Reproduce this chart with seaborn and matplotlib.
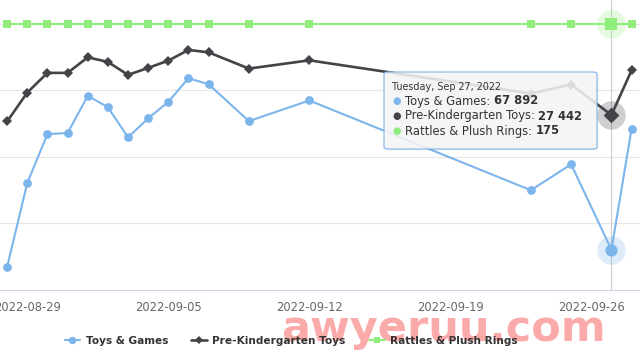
import pandas as pd
import numpy as np
import matplotlib
matplotlib.use('Agg')
import matplotlib.pyplot as plt
import matplotlib.dates as mdates
from matplotlib.patches import FancyBboxPatch
from matplotlib.lines import Line2D
import seaborn as sns

# ---- data ----
dates = ['2022-08-28', '2022-08-29', '2022-08-30', '2022-08-31', '2022-09-01',
         '2022-09-02', '2022-09-03', '2022-09-04', '2022-09-05', '2022-09-06',
         '2022-09-07', '2022-09-09', '2022-09-12', '2022-09-23', '2022-09-25',
         '2022-09-27', '2022-09-28']
toys_games = [72990, 47840, 33170, 32870, 21680, 25090, 34160, 28470, 23470,
              16410, 18200, 29280, 23080, 50030, 42250, 67892, 31560]
pre_kindergarten = [29370, 20690, 14790, 14790, 10120, 11500, 15390, 13290, 11110,
                    7900, 8620, 13500, 11020, 20990, 18290, 27442, 14010]
rattles_plush = [175, 175, 175, 175, 175, 175, 175, 175, 175,
                 175, 175, 175, 175, 175, 175, 175, 175]
series_names = ['Toys & Games', 'Pre-Kindergarten Toys', 'Rattles & Plush Rings']
tick_dates = ['2022-08-29', '2022-09-05', '2022-09-12', '2022-09-19', '2022-09-26']
hover_date = '2022-09-27'
hover_title = 'Tuesday, Sep 27, 2022'

colors = ['#7cb5ec', '#434348', '#90ed7d']
markers = ['o', 'D', 's']
msizes = [6.3, 5.5, 6.0]
lwidths = [1.5, 1.9, 1.5]

df = pd.DataFrame({'date': pd.to_datetime(dates),
                   series_names[0]: toys_games,
                   series_names[1]: pre_kindergarten,
                   series_names[2]: rattles_plush})

sns.set_style('white')
plt.rcParams['font.family'] = ['DejaVu Sans']

W, H = 640, 360
fig = plt.figure(figsize=(6.4, 3.6), dpi=100)
ax = fig.add_axes([0, 1 - 290 / H, 1, 290 / H])

hx = pd.Timestamp(hover_date)
ax.axvline(hx, color='#cccccc', lw=0.8, zorder=1)

for i, name in enumerate(series_names):
    sns.lineplot(data=df, x='date', y=name, ax=ax, color=colors[i], lw=lwidths[i],
                 marker=markers[i], markersize=msizes[i], markeredgewidth=0,
                 zorder=3 + i, clip_on=False)
    hv = df.loc[df['date'] == hx, name].iloc[0]
    ax.scatter([hx], [hv], s=420, color=colors[i], alpha=0.25, lw=0,
               zorder=2.5 + i, clip_on=False)
    ax.scatter([hx], [hv], s=(msizes[i] + 2.5) ** 2, color=colors[i], lw=0,
               marker=markers[i], zorder=3.1 + i, clip_on=False)

ax.set_xlim(pd.Timestamp('2022-08-27') + pd.Timedelta(days=0.644),
            pd.Timestamp('2022-09-28') + pd.Timedelta(days=0.418))
ax.set_ylim(80000, -7100)
ax.set_yticks([0, 20000, 40000, 60000])
ax.set_yticklabels([])
ax.yaxis.grid(True, color='#e6e6e6', lw=0.8)
ax.tick_params(axis='y', length=0)
ax.set_xticks(pd.to_datetime(tick_dates))
ax.xaxis.set_major_formatter(mdates.DateFormatter('%Y-%m-%d'))
ax.tick_params(axis='x', length=7.2, width=0.8, color='#ccd6eb', pad=0.5,
               labelsize=8.3, labelcolor='#666666', direction='out')
ax.set_xlabel('')
ax.set_ylabel('')
for s in ['top', 'left', 'right']:
    ax.spines[s].set_visible(False)
ax.spines['bottom'].set_color('#ccd6eb')
ax.spines['bottom'].set_linewidth(0.8)
if ax.get_legend():
    ax.get_legend().remove()

# watermark
fig.text(281 / W, 1 - 341 / H, 'awyeruu.com', fontsize=31, fontweight='bold',
         color='#fbaaaa', ha='left', va='baseline', zorder=2)

# legend
handles = [Line2D([], [], color=colors[i], lw=lwidths[i], marker=markers[i],
                  markersize=msizes[i] - 1, markeredgewidth=0) for i in range(3)]
leg = fig.legend(handles, series_names, loc='center', ncol=3,
                 bbox_to_anchor=(291 / W, 1 - 341 / H), frameon=False,
                 prop={'size': 7.6, 'weight': 'bold'}, handlelength=1.5,
                 handletextpad=0.5, columnspacing=2.2, borderpad=0)
for t in leg.get_texts():
    t.set_color('#333333')
leg.set_zorder(6)

# tooltip
bx0, by0, bx1, by1 = 384, 72, 597, 149
shadow = FancyBboxPatch(((bx0 + 1.5) / W, 1 - (by1 + 1.5) / H), (bx1 - bx0) / W,
                        (by1 - by0) / H, boxstyle='round,pad=0,rounding_size=0.006',
                        transform=fig.transFigure, fc='#000000', alpha=0.06,
                        ec='none', zorder=9)
box = FancyBboxPatch((bx0 / W, 1 - by1 / H), (bx1 - bx0) / W, (by1 - by0) / H,
                     boxstyle='round,pad=0,rounding_size=0.006',
                     transform=fig.transFigure, fc='#f7f7f7', alpha=0.86,
                     ec='none', zorder=10)
border = FancyBboxPatch((bx0 / W, 1 - by1 / H), (bx1 - bx0) / W, (by1 - by0) / H,
                        boxstyle='round,pad=0,rounding_size=0.006',
                        transform=fig.transFigure, fc='none', ec=colors[0],
                        lw=0.8, zorder=11)
fig.patches.extend([shadow, box, border])

fig.text(392 / W, 1 - 87 / H, hover_title, fontsize=6.9, color='#333333',
         va='center', ha='left', zorder=12)
row_y = [101, 116, 131]
values = [toys_games, pre_kindergarten, rattles_plush]
idx = dates.index(hover_date)
labels = []
for i, name in enumerate(series_names):
    fig.text(397 / W, 1 - row_y[i] / H, '\u25cf', fontsize=7, color=colors[i],
             va='center', ha='center', zorder=12)
    t = fig.text(405 / W, 1 - row_y[i] / H, name + ': ', fontsize=8.3,
                 color='#333333', va='center', ha='left', zorder=12)
    labels.append(t)

fig.canvas.draw()
renderer = fig.canvas.get_renderer()
for i, t in enumerate(labels):
    ext = t.get_window_extent(renderer)
    v = values[i][idx]
    vs = f'{v:,}'.replace(',', ' ')
    fig.text(ext.x1 / W, 1 - row_y[i] / H, vs, fontsize=8.3, fontweight='bold',
             color='#333333', va='center', ha='left', zorder=12)

fig.savefig('out.png', dpi=100)
plt.close()
